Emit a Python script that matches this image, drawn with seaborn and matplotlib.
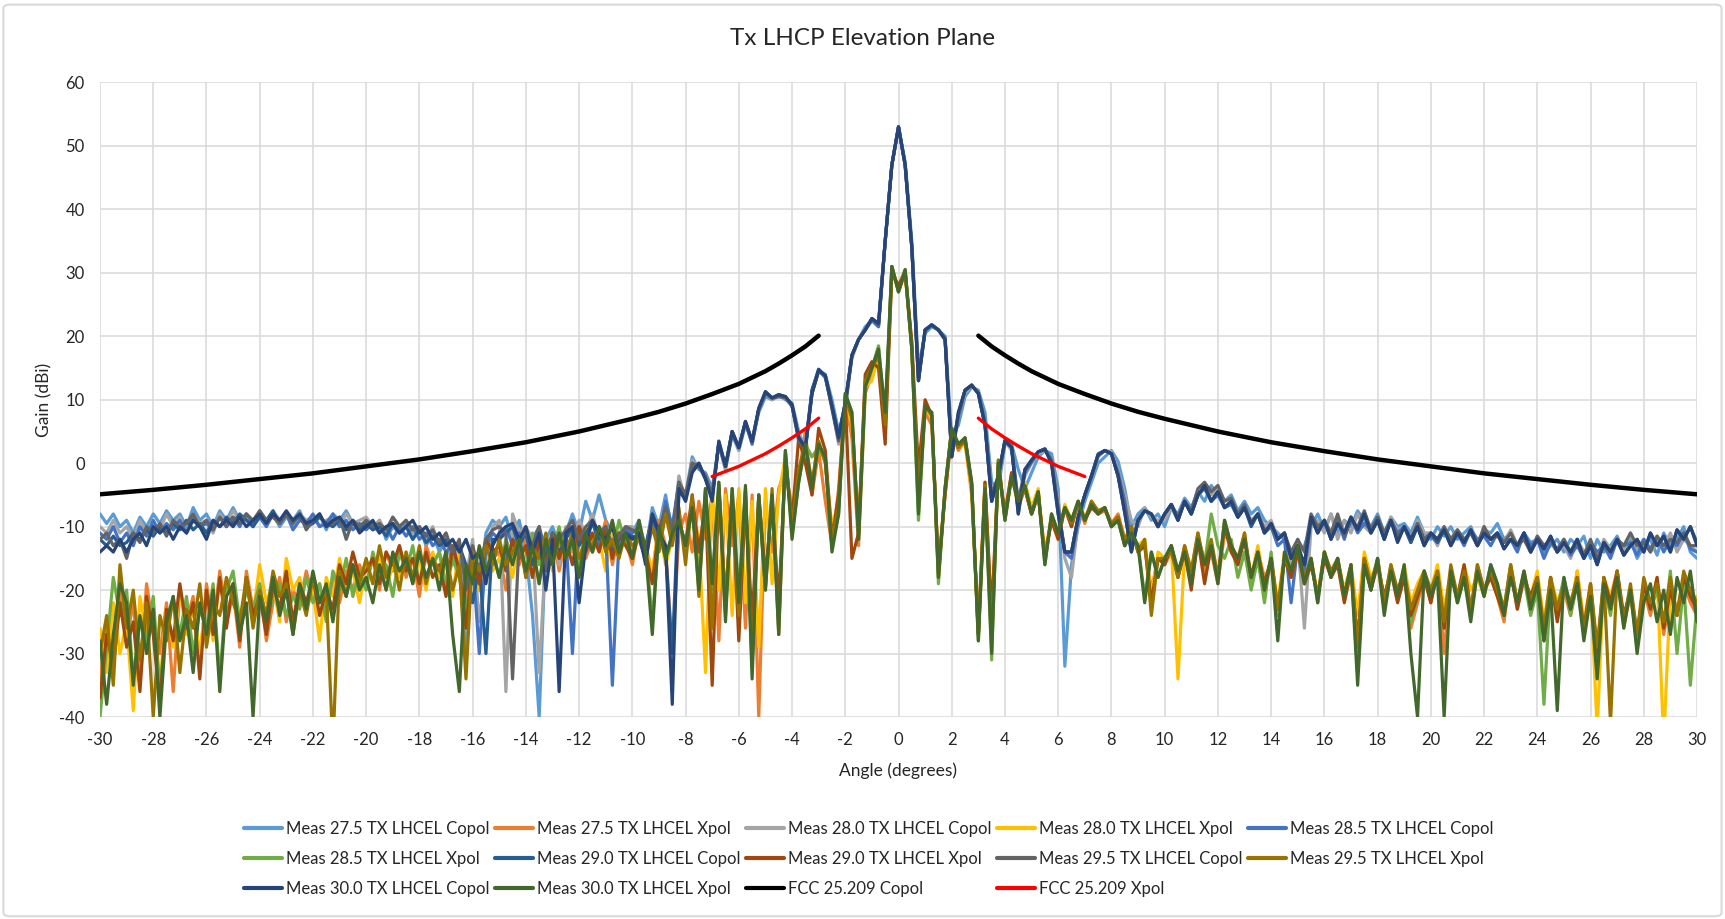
import numpy as np
import pandas as pd
import matplotlib
matplotlib.use("Agg")
import matplotlib.pyplot as plt
import seaborn as sns
from matplotlib.patches import FancyBboxPatch

# ---------------- DATA ----------------
# sample angles (degrees), 0.25 deg spacing from -30 to 30
angles = np.round(np.arange(-30, 30.001, 0.25), 2)

# Each series: 12 rows of 20 samples (5 deg per row) + final value at +30
copol_275 = [
    [-8,-9.5,-8,-10,-9,-11,-8.5,-10,-8,-9.5,-7.5,-9,-8,-10,-7,-9,-8,-10,-7.5,-9],
    [-7,-9,-8,-10,-7.5,-9,-8,-10,-8.5,-9,-7.5,-10,-9,-8,-10.5,-8,-9,-7.5,-9.5,-10],
    [-9,-10.5,-9,-12,-10,-11,-9.5,-12,-10,-13,-11,-14,-12,-16,-13,-31,-14,-20,-11,-9],
    [-10,-8.5,-12,-9,-14,-24,-40,-12,-10,-13,-11,-8,-11,-6,-9,-5,-9,-11,-13,-10],
    [-11,-9,-14,-7,-10,-5,-11,-3,-5,1,-1,-1.5,-4,3,-1,4.5,2,6,3.5,8],
    [10.5,10,10.8,10,9.5,5,2,11,14.5,14,10,5,8.5,17,19.5,21.5,22.5,22,35,47],
    [53,47.5,35,15,20.5,21.5,21,20,4,6,10.5,12,11.5,8,-3,-4,3,3,-1,-4],
    [-1.5,1,2,1.5,-4,-32,-16,-10,-6,-3,0,1,2,0.3,-4,-10,-8,-7,-9,-8],
    [-10,-7,-8,-5.5,-7,-4.5,-6,-3.5,-5,-6,-5,-7.5,-6,-8,-7,-9,-10,-11,-12,-16],
    [-14,-13,-10,-8,-10.5,-8,-11,-9,-10,-7.5,-9,-10,-8,-11,-8.5,-10,-9.5,-11,-8.5,-11],
    [-12,-10,-11.5,-10,-12,-11,-10,-12.5,-10.5,-11,-9.5,-12,-11,-13,-11,-12.5,-12,-14,-13,-12],
    [-14,-12,-13,-11.5,-15,-12,-14,-13,-11.5,-14,-12,-15,-13,-12,-14.5,-11,-13,-12,-10,-14],
    [-15],
]
xpol_275 = [
    [-34,-26,-31,-20,-28,-22,-33,-19,-26,-30,-22,-36,-20,-25,-21,-32,-19,-26,-17,-24],
    [-20,-29,-17,-23,-19,-28,-22,-18,-25,-20,-22,-17,-21,-19,-24,-18,-22,-17,-20,-16],
    [-19,-15,-20,-14,-17,-13,-18,-15,-21,-13,-16,-14,-19,-15,-17,-22,-14,-18,-12,-15],
    [-14,-20,-13,-16,-12,-18,-13,-15,-11,-17,-12,-14,-10,-15,-12,-13,-9,-16,-11,-12],
    [-16,-10,-13,-18,-9,-13,-30,-11,-8,-14,-6,-12,-5,-28,-4,-13,-5,-26,-5,-40],
    [-6,-14,-4,-1,-7,-2,5,-5,2,-6,-13,-4,10,4,-13,11,14,16,6,30],
    [28,30.5,19,-6,8,6,-16,-5,5,2,3.5,-5,-26,-3,-25,-1,-8,-1.5,-7,-4],
    [-8,-5,-14,-9,-12,-7,-10,-6.5,-9.5,-6,-8,-7.5,-9.5,-8,-12,-10,-14,-13,-20,-15],
    [-16,-14,-18,-13,-17,-11,-17,-14,-19,-11,-13,-16,-11,-19,-14,-18,-16,-24,-15,-18],
    [-14,-18,-16,-21,-15,-17,-16,-20,-17,-28,-15,-19,-16,-22,-17,-20,-18,-26,-22,-18],
    [-22,-17,-30,-18,-21,-17,-24,-16,-20,-18,-21,-25,-17,-23,-18,-22,-19,-26,-18,-24],
    [-20,-24,-17,-26,-20,-31,-19,-22,-18,-25,-21,-28,-20,-24,-19,-27,-21,-24,-19,-22],
    [-24],
]
copol_280 = [
    [-10,-11,-9,-11,-10,-12,-9,-11,-9.5,-10.5,-8,-10,-8.5,-11,-8,-9.5,-9,-11,-8,-9.5],
    [-7.5,-9,-8.5,-10,-8,-9.5,-7.5,-9,-8,-10,-8,-9,-8.5,-10,-9,-8.5,-10,-8,-9.5,-9],
    [-8.5,-10,-9,-11,-8.5,-10,-9,-11,-10,-12,-10,-13,-11,-15,-13,-18,-12,-25,-16,-10],
    [-9,-36,-8,-11,-10,-12,-33,-14,-11,-16,-10,-12,-9,-11,-8,-12,-10,-12,-11,-10],
    [-10,-12,-15,-8,-11,-6,-12,-2,-6,0.5,-0.5,-2,-5,3,-1,5,2,6.5,3,8.5],
    [11,10,10.5,10.2,9,4.5,3,11.5,14.5,13.5,9,3,9,16.5,19.5,21,22.5,21.5,35,47],
    [53,47,34.5,14,21,21.8,21,19.5,2,7.5,11,12.3,11,6,-5,-3,3.5,2,-6,-2],
    [0,1.5,2,0.5,-6,-15,-18,-9,-5,-2,1,2,1.8,-1,-5,-9,-10,-7,-8.5,-9],
    [-9,-7,-9,-6,-8,-5,-3.5,-5,-4,-7,-6,-8,-7,-9,-8,-10,-9,-12,-11,-16],
    [-12,-26,-10,-9,-11,-8,-12,-9,-11,-8,-10,-11,-9,-12,-8.5,-10.5,-10,-12,-9,-11],
    [-11,-13,-10,-12,-10.5,-12,-11,-13,-10,-12,-11,-12.5,-10.5,-13,-12,-14,-11.5,-13,-12.5,-14],
    [-13,-15,-12,-14,-13,-15.5,-12,-13.5,-12.5,-14,-11,-13.5,-12,-14,-12.5,-13,-11,-14,-12,-13],
    [-14],
]
xpol_280 = [
    [-26,-33,-22,-30,-25,-39,-21,-27,-24,-35,-23,-29,-20,-27,-23,-30,-21,-28,-18,-25],
    [-21,-26,-19,-24,-16,-22,-19,-25,-15,-20,-18,-23,-20,-28,-18,-21,-15,-20,-17,-22],
    [-16,-19,-14,-20,-16,-18,-14,-19,-15,-20,-14,-18,-16,-21,-13,-17,-15,-20,-14,-17],
    [-15,-13,-18,-12,-16,-14,-19,-12,-17,-11,-15,-13,-16,-10,-14,-12,-17,-10,-13,-12],
    [-14,-11,-13,-17,-10,-16,-12,-8,-14,-7,-12,-33,-4,-20,-5,-24,-4,-22,-6,-29],
    [-4,-19,-5,1,-10,-2,2,-4,3,0,-10,-6,10,6,-10,12,13,17,5,31],
    [27.5,30,18,-7,9,7,-17,-4,5.5,2.5,3,-4,-27,-3,-29,0,-9,-2,-6,-3],
    [-7,-4,-15,-8,-11,-6.5,-9,-6,-8.5,-6.5,-7.5,-7,-10,-9,-12,-11,-13,-12,-21,-14],
    [-15,-13,-34,-14,-18,-12,-15,-13,-18,-10,-14,-15,-12,-18,-13,-19,-15,-22,-14,-17],
    [-13,-19,-15,-21,-14,-18,-15,-20,-16,-24,-14,-18,-16,-23,-17,-21,-16,-22,-19,-17],
    [-20,-16,-23,-17,-22,-16,-20,-18,-21,-17,-19,-24,-16,-22,-18,-21,-17,-25,-18,-22],
    [-19,-23,-17,-25,-19,-42,-18,-21,-17,-26,-20,-29,-19,-23,-18,-44,-20,-23,-18,-21],
    [-21],
]
copol_285 = [
    [-11,-12,-10,-12.5,-11,-13,-10,-11.5,-9,-11,-9.5,-10.5,-9,-11,-8.5,-10,-9.5,-10.5,-8.5,-10],
    [-8.5,-10,-8,-9.5,-8.5,-10,-8,-9,-8,-10.5,-9,-9.5,-8,-10,-9.5,-8,-10,-9,-10.5,-9.5],
    [-10.5,-9.5,-11,-10,-12,-10,-11.5,-10,-12,-11,-13,-12,-14,-13,-17,-24,-15,-30,-13,-11],
    [-12,-10,-13,-11,-18,-12,-10,-14,-12,-15,-11,-30,-10,-12,-9,-13,-11,-35,-12,-10.5],
    [-11,-10,-15,-9,-12,-6,-10,-3,-5.5,0,-0.5,-2.5,-5,3,-0.5,4.5,2.5,6.5,3,8.5],
    [11,10.2,10.5,10.5,9,4.2,2.5,11.5,14.8,13.5,9,4.5,9.5,17,19.5,21,22.5,21.5,35,47],
    [53,47,34,13.5,21,21.8,21,19.8,1.5,7.5,11.5,12.3,11,6.5,-6,-2.5,3.8,2.5,-7,-1.5],
    [0.2,1.8,2.3,0.5,-7,-14,-15,-9,-5,-2,1.5,2,1.5,-1.5,-6,-13,-9,-7.5,-8,-10],
    [-8,-6.5,-8.5,-6,-8,-5,-4,-6,-5,-7,-6.5,-8.5,-7,-9.5,-8,-11,-10,-13,-12,-22],
    [-13,-17,-9,-10,-9.5,-11,-9,-12,-8.5,-11,-9.5,-10.5,-8.5,-11.5,-9,-11,-10,-12.5,-9.5,-12],
    [-11.5,-12.5,-10.5,-12,-11,-13,-10.5,-12,-11.5,-13,-11,-12.5,-12,-14,-11,-13,-12,-15,-12.5,-13.5],
    [-12,-14.5,-13,-15,-12.5,-14,-13,-15,-12,-13,-12.5,-14.5,-12,-13.5,-11.5,-14,-12,-13,-11,-13.5],
    [-14],
]
xpol_285 = [
    [-40,-29,-18,-24,-20,-34,-25,-28,-21,-36,-24,-22,-27,-21,-30,-23,-26,-19,-34,-20],
    [-17,-25,-20,-23,-19,-26,-21,-19,-24,-21,-23,-18,-22,-19,-25,-17,-20,-15,-21,-17],
    [-20,-14,-18,-16,-21,-14,-17,-13,-19,-15,-16,-14,-20,-15,-18,-24,-15,-17,-12,-14],
    [-18,-12,-15,-13,-17,-11,-16,-12,-14,-10,-15,-13,-16,-11,-14,-10,-12,-14,-9,-13],
    [-14,-10,-13,-25,-11,-15,-12,-10,-12,-7,-18,-4,-20,-3,-24,-4,-21,-4,-30,-5],
    [-19,-5,-25,2,-11,-3,3,1,2.5,0.5,-13,-8,11,8,-12,12,15,18.5,7,31],
    [27,30.5,18,-9,9,8,-19,-4,5.5,3,4,-3,-28,-4,-31,0.5,-9,-2,-6,-3.5],
    [-8,-4.5,-16,-8,-11,-7,-9,-6,-9,-6.5,-8,-7,-10,-9,-13,-11,-13,-21,-14,-18],
    [-15,-13,-17,-14,-19,-12,-16,-8,-13,-15,-12,-18,-14,-20,-15,-22,-14,-24,-15,-17],
    [-13,-19,-15,-22,-14,-18,-15,-21,-16,-33,-16,-20,-15,-22,-16,-21,-18,-25,-21,-17],
    [-21,-18,-26,-17,-22,-18,-24,-17,-21,-16,-19,-23,-16,-22,-18,-24,-20,-38,-19,-23],
    [-18,-24,-19,-27,-20,-33,-19,-24,-17,-25,-20,-28,-19,-23,-20,-26,-17,-30,-19,-35],
    [-22],
]
copol_290 = [
    [-12,-13,-11.5,-13,-12.5,-11,-12,-10.5,-11.5,-10,-11,-9.5,-10.5,-9,-10.5,-9.5,-11,-9,-10,-8.5],
    [-9.5,-8,-9,-10,-8.5,-9,-7.5,-9.5,-8,-9,-8.5,-10,-9.5,-8.5,-9.5,-10,-9,-10.5,-9.5,-10.5],
    [-9.5,-10.5,-10,-11.5,-9.5,-11,-10,-12,-10.5,-12.5,-11.5,-13,-12,-14,-13,-16,-22,-16,-30,-12],
    [-12,-11,-10,-13,-11,-16,-12,-15,-11,-14,-12,-10,-13,-11,-9.5,-12,-11,-14,-12,-11],
    [-11.5,-12,-13,-8.5,-11,-14,-30,-4.5,-5.5,-1,0,-2.5,-5.5,3.5,-0.5,5,2.5,6.5,3.5,8.5],
    [11.2,10.3,10.8,10.5,9.2,4,2,11.5,14.8,13.8,9,4,9.5,17,19.5,21,22.8,22,35,47],
    [53,47,34,13,21,21.8,21,19.5,1,8,11.5,12.3,11,6,-6,-2,3.5,2.5,-8,-1],
    [0.5,1.8,2.2,0,-8,-14,-14,-8.5,-5,-2,1.3,2,1.5,-2,-7.8,-14,-9,-7.5,-8,-10],
    [-8,-6.5,-9,-6,-8,-5,-3.8,-6,-4.5,-7,-6,-8.5,-7,-10,-8,-11,-9.5,-12,-11,-15],
    [-13,-16,-8.5,-11,-9,-12,-9.5,-11,-8.5,-10.5,-8,-11,-9,-12,-9,-12,-10,-12.5,-10,-13],
    [-11,-12.5,-10.5,-13,-11,-12.5,-10.5,-13,-11,-12,-11,-13.5,-12,-13,-11,-14,-12,-13.5,-11.5,-14],
    [-12.5,-14,-12,-15,-13,-16,-12.5,-14,-12,-14.5,-13,-12,-14,-11,-13,-11.5,-14,-10.5,-12,-10],
    [-12.5],
]
xpol_290 = [
    [-37,-27,-32,-22,-29,-25,-36,-21,-27,-38,-23,-28,-19,-26,-22,-34,-20,-27,-18,-26],
    [-19,-28,-18,-24,-21,-27,-19,-23,-17,-25,-19,-22,-18,-24,-20,-23,-16,-19,-14,-18],
    [-17,-15,-19,-14,-16,-13,-17,-15,-19,-14,-18,-16,-21,-13,-17,-26,-15,-19,-12,-14],
    [-13,-17,-12,-15,-13,-18,-12,-16,-11,-15,-12,-16,-10,-14,-11,-14,-10,-15,-11,-13],
    [-15,-11,-14,-19,-10,-14,-12,-9,-13,-5,-14,-6,-35,-4,-22,-5,-28,-6,-25,-5],
    [-18,-6,-22,0,-9,4,0,-5,5.5,2,-12,-5,10,-15,-11,14,16,15,3,30],
    [28,30,19,-1,10,7.5,-17,-5,5,2.5,3.5,-3.5,-27,-3,-24,-0.5,-8,-1.5,-6,-4],
    [-8,-5,-15,-9,-12,-7,-10,-6,-9,-7,-8,-7,-10,-8.5,-13,-10,-14,-13,-22,-15],
    [-16,-13,-18,-14,-20,-12,-19,-13,-18,-10,-14,-16,-12,-18,-14,-19,-15,-23,-15,-18],
    [-14,-19,-16,-21,-15,-18,-16,-22,-17,-28,-15,-20,-16,-21,-17,-22,-18,-24,-21,-18],
    [-22,-17,-26,-18,-21,-16,-23,-17,-20,-18,-21,-24,-17,-23,-18,-21,-18,-28,-18,-25],
    [-19,-23,-18,-26,-19,-30,-18,-22,-17,-24,-20,-27,-19,-23,-18,-26,-20,-24,-18,-21],
    [-23],
]
copol_295 = [
    [-12,-11,-13,-12,-15,-11,-12.5,-10,-11,-9.5,-11.5,-9,-10,-9.5,-8,-10,-9,-10.5,-8.5,-10],
    [-8.5,-9.5,-8,-9,-7.5,-9,-8.5,-9.5,-8,-9.5,-8,-10.5,-9,-8,-10,-9.5,-8.5,-12,-9,-10],
    [-9,-10,-9.5,-10.5,-8.5,-10,-9,-10.5,-10,-11.5,-10.5,-12.5,-11,-14,-12,-20,-13,-17,-12,-10.5],
    [-10,-11,-34,-12,-11,-13,-10,-17,-11,-12,-10.5,-9,-12,-10,-9,-11,-10,-13,-11.5,-10],
    [-10.5,-11,-14,-8,-10.5,-7,-11,-3,-5,0,-0.5,-2,-5,3,-0.5,5,2.5,6.5,3.5,8.5],
    [11,10.3,10.5,10.3,9,3.5,2.5,11,14.5,13.8,8.5,3.5,9,17,19.5,21,22.8,21.8,35,47],
    [53,47,34,13,21,21.8,21,19.5,1,7.5,11.5,12.3,11,6,-5,-2,3.5,2.5,-6,-1],
    [0.3,1.8,2.2,0.2,-7,-14,-14,-8.5,-5,-2,1.3,2,1.5,-2,-7,-13,-9,-7.5,-8,-10],
    [-8,-6.5,-8.5,-6,-7.5,-4,-3,-4.5,-3.5,-6,-5.5,-8,-6.5,-9.5,-8,-10.5,-10,-12,-11,-14],
    [-12,-14,-8,-10,-9,-11,-8,-11.5,-9,-10,-7.5,-10.5,-8.5,-11,-9,-11.5,-10,-12,-9.5,-12],
    [-11,-12,-10,-12,-10.5,-12,-11,-13,-10,-12,-11.5,-12.5,-11,-13,-12,-14,-11.5,-13,-12,-14],
    [-12,-14,-12.5,-14.5,-12,-15,-13,-14,-12,-13,-11,-13,-12.5,-14,-11.5,-13,-12,-12.5,-11,-13],
    [-13],
]
xpol_295 = [
    [-30,-24,-35,-16,-26,-20,-31,-22,-40,-24,-28,-21,-33,-23,-26,-19,-29,-22,-24,-18],
    [-22,-25,-18,-26,-20,-24,-17,-21,-19,-27,-20,-24,-18,-22,-20,-45,-17,-21,-16,-19],
    [-15,-19,-13,-18,-15,-20,-14,-18,-13,-19,-15,-17,-14,-20,-16,-34,-14,-17,-13,-16],
    [-12,-16,-14,-12,-18,-13,-15,-11,-16,-12,-14,-11,-15,-12,-13,-10,-14,-12,-15,-11],
    [-13,-12,-15,-10,-14,-8,-13,-7,-16,-5,-21,-4,-26,-3.5,-22,-5,-24,-4.5,-32,-5.5],
    [-20,-4,-27,1.5,-10,-1,3,-3,3.5,0,-12,-7,10.5,7,-11,13,15,17,6,31],
    [27,30,18,-5,9,7.5,-18,-4,5.5,2.5,4,-3.5,-27,-3.5,-28,0.5,-8.5,-2,-6.5,-4],
    [-8,-4.5,-15,-8.5,-11,-7,-9.5,-6.5,-9,-6,-7.5,-7,-9.5,-8.5,-12,-10,-14,-12,-24,-15],
    [-15,-14,-18,-13,-17,-11,-16,-12,-18,-9,-13,-15,-11,-18,-14,-20,-15,-23,-15,-17],
    [-13,-18,-15,-21,-14,-17,-15,-21,-16,-29,-15,-19,-15,-22,-16,-20,-17,-23,-20,-17],
    [-20,-17,-25,-16,-21,-17,-23,-16,-20,-17,-20,-23,-16,-22,-17,-22,-18,-26,-18,-23],
    [-19,-22,-18,-27,-19,-29,-18,-41,-17,-25,-19,-27,-18,-22,-19,-25,-18,-24,-17,-20],
    [-22],
]
copol_300 = [
    [-14,-13,-14,-12,-14,-12,-11,-13,-10,-11,-10,-12,-10,-11,-9,-10,-12,-9,-10,-9],
    [-10,-8.5,-10,-9,-8,-9.5,-8,-9,-7.5,-9,-8,-9.5,-9,-8,-10,-9,-8.5,-10,-9,-11],
    [-10,-9,-11,-10,-9.5,-11,-10,-9,-11,-10,-12,-11,-13,-12,-14,-12,-15,-14,-19,-13],
    [-11,-10,-9.5,-12,-10,-14,-11,-20,-12,-36,-11,-10,-22,-13,-9,-11,-12,-10,-14,-11],
    [-12,-11,-16,-8,-11,-13,-38,-4,-6,-1.5,0,-2.5,-6,3.4,-0.5,5,2.4,6.6,3.4,8.7],
    [11.3,10.3,10.8,10.5,9.2,4,2.5,11,14.7,13.8,9,4,9.5,17,19.5,21,22.8,22,35,47],
    [53,47,34,13,21,21.8,21,19.5,1,8,11.5,12.3,11,6,-6,-2,3.5,2.5,-8,-1],
    [0.5,1.8,2.2,0,-8,-14,-14,-8.5,-5,-2,1.3,2,1.5,-2,-7.8,-14,-9,-7.5,-8,-10],
    [-8,-6.5,-9,-6,-8,-5,-3.5,-6,-4.5,-7,-6,-8.5,-7,-9.5,-8,-11,-9.5,-12,-11,-15],
    [-13,-16,-8.5,-11,-9,-12,-9.5,-11,-8.5,-10.5,-8,-11,-9,-12,-9,-12.5,-10,-12,-10,-13],
    [-11,-12,-10.5,-13,-11,-12.5,-10.5,-13,-11,-12,-11,-13.5,-12,-13,-11,-14,-12,-13.5,-11.5,-14],
    [-12.5,-14,-12,-15,-13,-16,-12.5,-14,-12,-14.5,-13,-12,-14,-11,-13,-11.5,-14,-10.5,-12,-10],
    [-13],
]
xpol_300 = [
    [-28,-38,-27,-19,-22,-35,-24,-30,-23,-40,-25,-21,-28,-24,-33,-22,-27,-20,-36,-21],
    [-19,-27,-22,-40,-21,-25,-18,-24,-20,-27,-19,-23,-17,-22,-19,-25,-18,-21,-16,-20],
    [-18,-22,-16,-20,-14,-17,-15,-19,-14,-18,-15,-20,-14,-27,-36,-16,-19,-13,-17,-14],
    [-18,-13,-16,-12,-17,-13,-19,-12,-16,-11,-15,-12,-18,-11,-14,-10,-13,-9,-14,-11],
    [-15,-9,-14,-27,-10,-15,-11,-9,-13,-7,-20,-4,-19,-3,-25,-4,-22,-3.5,-34,-5],
    [-20,-5,-27,2,-12,-3,3,-4,3,1,-14,-8,11,8,-12,12,15,18,8,31],
    [27,30.5,18,-8,9,8,-18,-4,5.5,3,4,-3,-28,-4,-30,0,-9,-2,-6,-3.5],
    [-8,-4.5,-16,-8,-11,-7,-9,-6,-9,-6.5,-8,-7,-10,-9,-13,-11,-13,-22,-14,-18],
    [-15,-13,-17,-14,-19,-12,-16,-13,-19,-9,-13,-15,-12,-18,-14,-20,-15,-28,-14,-17],
    [-13,-19,-15,-22,-14,-18,-15,-21,-16,-35,-16,-20,-15,-24,-17,-21,-16,-30,-40,-17],
    [-21,-18,-40,-17,-22,-18,-25,-17,-21,-16,-19,-24,-18,-22,-17,-23,-19,-28,-20,-39],
    [-18,-23,-19,-28,-21,-34,-19,-23,-18,-26,-20,-30,-22,-19,-25,-20,-27,-18,-22,-17],
    [-25],
]

# FCC 25.209 masks (|angle| in degrees, dBi)
fcc_copol_angle = [3, 3.5, 4, 4.5, 5, 5.5, 6, 7, 8, 9, 10, 12, 14, 16, 18, 20, 22, 24, 26, 28, 30]
fcc_copol_gain = [20.1, 18.4, 17.0, 15.7, 14.5, 13.5, 12.5, 10.9, 9.4, 8.1, 7.0, 5.0, 3.3, 1.9, 0.6,
                  -0.5, -1.6, -2.5, -3.4, -4.2, -4.9]
fcc_xpol_angle = [3, 3.5, 4, 4.5, 5, 5.5, 6, 6.5, 7]
fcc_xpol_gain = [7.1, 5.4, 4.0, 2.7, 1.5, 0.5, -0.5, -1.3, -2.1]

x_ticks = list(range(-30, 31, 2))
y_ticks = list(range(-40, 61, 10))

series_names = [
    "Meas 27.5 TX LHCEL Copol", "Meas 27.5 TX LHCEL Xpol",
    "Meas 28.0 TX LHCEL Copol", "Meas 28.0 TX LHCEL Xpol",
    "Meas 28.5 TX LHCEL Copol", "Meas 28.5 TX LHCEL Xpol",
    "Meas 29.0 TX LHCEL Copol", "Meas 29.0 TX LHCEL Xpol",
    "Meas 29.5 TX LHCEL Copol", "Meas 29.5 TX LHCEL Xpol",
    "Meas 30.0 TX LHCEL Copol", "Meas 30.0 TX LHCEL Xpol",
]
series_values = [copol_275, xpol_275, copol_280, xpol_280, copol_285, xpol_285,
                 copol_290, xpol_290, copol_295, xpol_295, copol_300, xpol_300]
series_colors = ["#5B9BD5", "#ED7D31", "#A5A5A5", "#FFC000", "#4472C4", "#70AD47",
                 "#255E91", "#9E480E", "#636363", "#997300", "#264478", "#43682B"]


def flatten(name, rows):
    vals = [v for r in rows for v in r]
    if len(vals) != len(angles):
        raise ValueError(f"{name}: {len(vals)} values, rows {[len(r) for r in rows]}")
    return vals


# ---------------- PLOT ----------------
sns.set_theme(style="whitegrid")
plt.rcParams['font.family'] = ['Lato', 'DejaVu Sans']

W, H = 1725, 919
fig = plt.figure(figsize=(W / 100, H / 100), dpi=100)
fig.patch.set_facecolor("white")
left, right, top, bottom = 100, 1697, 82.5, 717
ax = fig.add_axes([left / W, 1 - bottom / H, (right - left) / W, (bottom - top) / H])

handles = []
for name, rows, col in zip(series_names, series_values, series_colors):
    vals = flatten(name, rows)
    df = pd.DataFrame({"angle": angles, "gain": vals})
    sns.lineplot(data=df, x="angle", y="gain", ax=ax, color=col, linewidth=2.3,
                 sort=False, estimator=None, legend=False)
    ln = ax.lines[-1]
    ln.set_label(name)
    ln.set_solid_joinstyle("round")
    handles.append(ln)

# FCC masks (mirrored about boresight)
fa = np.array(fcc_copol_angle)
fg = np.array(fcc_copol_gain)
for k, sgn in enumerate([-1, 1]):
    sns.lineplot(x=sgn * fa, y=fg, ax=ax, color="black", linewidth=3.2,
                 sort=True, estimator=None, legend=False)
    if k == 0:
        h = ax.lines[-1]
        h.set_label("FCC 25.209 Copol")
h_fccc = h
xa = np.array(fcc_xpol_angle)
xg = np.array(fcc_xpol_gain)
for k, sgn in enumerate([-1, 1]):
    sns.lineplot(x=sgn * xa, y=xg, ax=ax, color="#FF0000", linewidth=2.4,
                 sort=True, estimator=None, legend=False)
    if k == 0:
        h = ax.lines[-1]
        h.set_label("FCC 25.209 Xpol")
h_fccx = h
handles += [h_fccc, h_fccx]

ax.set_xlim(-30, 30)
ax.set_ylim(-40, 60)
ax.set_xticks(x_ticks)
ax.set_yticks(y_ticks)
ax.set_xticklabels([str(t) for t in x_ticks])
ax.set_yticklabels([str(t) for t in y_ticks])
ax.grid(True, color="#D9D9D9", linewidth=1.1)
ax.set_axisbelow(True)
for s in ax.spines.values():
    s.set_visible(False)
ax.tick_params(axis="both", length=0, labelsize=12, colors="#262626")
ax.tick_params(axis="x", pad=11)
ax.tick_params(axis="y", pad=11)
ax.set_xlabel("")
ax.set_ylabel("")

fig.text(0.5, 1 - 38.5 / H, "Tx LHCP Elevation Plane", ha="center", va="center",
         fontsize=17.5, color="#262626")
fig.text((left + right) / 2 / W, 1 - 771 / H, "Angle (degrees)", ha="center", va="center",
         fontsize=12.5, color="#262626")
fig.text(44 / W, 1 - ((top + bottom) / 2) / H, "Gain (dBi)", ha="center", va="center",
         rotation=90, fontsize=12.5, color="#262626")

# legend: reorder so it reads row-wise in 5 columns
ncol = 5
nrow = int(np.ceil(len(handles) / ncol))
order = [r * ncol + c for c in range(ncol) for r in range(nrow) if r * ncol + c < len(handles)]
leg = fig.legend([handles[i] for i in order], [handles[i].get_label() for i in order],
                 loc="center", bbox_to_anchor=(0.5035, 1 - 859 / H), ncol=ncol, frameon=False,
                 fontsize=12, handlelength=2.3, handletextpad=0.2, columnspacing=0.35,
                 labelspacing=0.85)
for t in leg.get_texts():
    t.set_color("#262626")
for l in leg.get_lines():
    l.set_linewidth(3)

border = FancyBboxPatch((0.002, 0.003), 0.996, 0.992, boxstyle="round,pad=0,rounding_size=0.004",
                        transform=fig.transFigure, fill=False, edgecolor="#D9D9D9", linewidth=1.5)
fig.patches.append(border)

fig.savefig("out.png", dpi=100)
